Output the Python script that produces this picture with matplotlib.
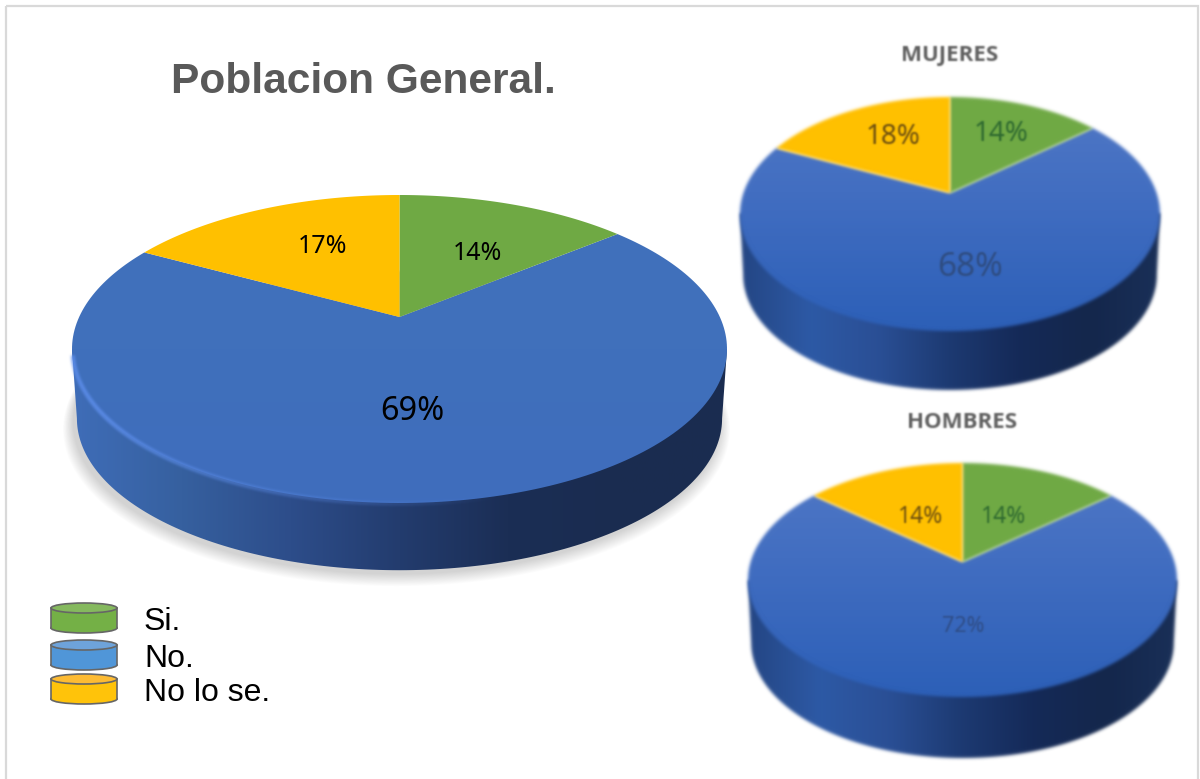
import numpy as np
import matplotlib
matplotlib.use('Agg')
import matplotlib.pyplot as plt
from matplotlib.patches import Polygon, Ellipse, Rectangle
from matplotlib.collections import LineCollection
from matplotlib.colors import LinearSegmentedColormap

# values, percent (si, no, no lo se)
general = [14, 69, 17]
mujeres = [14, 68, 18]
hombres = [14, 72, 14]
legend_labels = ['Si.', 'No.', 'No lo se.']

GREEN = '#6fa944'
YELLOW = '#ffc000'
TEXT_FONT = 'Noto Sans'

wall_big = LinearSegmentedColormap.from_list('wall_big', ['#3f6db8', '#36609f', '#2d4d8a', '#233c6e', '#1b2e55', '#1a2c50', '#1b2d50'])
wall_small = LinearSegmentedColormap.from_list('wall_small', ['#244684', '#2e5aa6', '#2a4f95', '#1d3a72', '#152a58', '#14274c', '#1a3058'])

fig = plt.figure(figsize=(12, 7.79), dpi=100, facecolor='white')
ax = fig.add_axes([0, 0, 1, 1])
ax.set_xlim(0, 1200)
ax.set_ylim(779, 0)
ax.axis('off')


def blur(image, dpi, radius=1.6):
    # soft edges for the two scaled down pies on the right
    pad = int(radius * 3)
    img = np.pad(image, ((pad, pad), (pad, pad), (0, 0)))
    img[..., :3] *= img[..., 3:]
    x = np.arange(-pad, pad + 1)
    kernel = np.exp(-x ** 2 / (2 * radius ** 2))
    kernel /= kernel.sum()
    for axis in (0, 1):
        img = np.apply_along_axis(lambda c: np.convolve(c, kernel, mode='same'), axis, img)
    img[..., :3] /= np.maximum(img[..., 3:], 1e-4)
    return np.clip(img, 0, 1), -pad, -pad


def draw_pie(values, cx, half, apex, top, bottom, depth, wall, face, soft=False, shadow=False, rim=False):
    k = (bottom - top) / (bottom + top)
    b = top * (1 + k)
    s = half * np.sqrt(1 - k ** 2)
    flt = blur if soft else None

    def project(angle, dy=0.0, scale=1.0):
        # angle clockwise from the top, seen in perspective
        u, v = np.sin(angle), np.cos(angle)
        w = 1 + k * v
        return cx + scale * s * u / w, apex - scale * b * v / w + dy

    t = np.linspace(0, 2 * np.pi, 361)
    xt, yt = project(t)
    xb, yb = project(t, depth, 0.985)
    left, right = np.argmin(xt), np.argmax(xt)
    left_b, right_b = np.argmin(xb), np.argmax(xb)
    # lower rim runs from the right extreme to the left extreme
    arc = np.arange(right_b, left_b + 1)
    body = np.vstack([[xt[right], yt[right]], np.column_stack([xb[arc], yb[arc]]), [xt[left], yt[left]]])

    if shadow:
        for grow in np.arange(1, 16):
            sx, sy = project(t, depth + 3 + grow * 0.45, 0.985 + grow * 0.0022)
            ax.add_patch(Polygon(np.column_stack([sx - 3, sy]), closed=True, fc='#808080', ec='none', alpha=0.022, zorder=1))

    clip = Polygon(body, closed=True, transform=ax.transData)
    im = ax.imshow(np.linspace(0, 1, 256).reshape(1, -1), cmap=wall, extent=[cx - half, cx + half, apex + bottom + depth + 5, apex - top],
                   aspect='auto', zorder=2, agg_filter=flt)
    im.set_clip_path(clip)

    ends = np.cumsum([0] + list(values)) / 100 * 2 * np.pi
    colors = [GREEN, None, YELLOW]
    for i in range(3):
        arc_t = np.linspace(ends[i], ends[i + 1], 200)
        xa, ya = project(arc_t)
        pts = np.column_stack([np.r_[cx, xa], np.r_[apex, ya]])
        if colors[i] is None:
            clip_f = Polygon(pts, closed=True, transform=ax.transData)
            cmap_f = LinearSegmentedColormap.from_list('face', face)
            imf = ax.imshow(np.linspace(0, 1, 64).reshape(-1, 1), cmap=cmap_f, extent=[cx - half, cx + half, apex + bottom, apex - top],
                            aspect='auto', origin='upper', zorder=3, agg_filter=flt)
            imf.set_clip_path(clip_f)
        else:
            ax.add_patch(Polygon(pts, closed=True, fc=colors[i], ec='none', zorder=4, agg_filter=flt))

    if rim:
        ang = np.linspace(np.deg2rad(256), np.deg2rad(165), 120)
        xr, yr = project(ang, 1, 0.998)
        pts = np.column_stack([xr, yr]).reshape(-1, 1, 2)
        segs = np.concatenate([pts[:-1], pts[1:]], axis=1)
        alpha = np.minimum(1, np.linspace(1.3, 0, len(segs))) * 0.85
        cols = np.tile(matplotlib.colors.to_rgba('#5f90ee'), (len(segs), 1))
        cols[:, 3] = alpha
        ax.add_collection(LineCollection(segs, colors=cols, linewidths=3.0, zorder=5,
                                         agg_filter=lambda i, d: blur(i, d, 1.3)))

    ax.set_xlim(0, 1200)
    ax.set_ylim(779, 0)


big_face = ['#4070bb', '#4070bb', '#3f6dbd']
small_face = ['#5078c6', '#3f6cc0', '#2d60b8']

draw_pie(general, 399.5, 327.5, 317, 122, 186, 70, wall_big, big_face, shadow=True, rim=True)
draw_pie(mujeres, 950, 210, 193, 96, 138, 61, wall_small, small_face, soft=True)
draw_pie(hombres, 962.5, 214.5, 562, 99, 135, 63, wall_small, small_face, soft=True)

# outer frame
ax.add_patch(Rectangle((6, 6), 1192, 790, fc='none', ec='#d9d9d9', lw=1.6, zorder=0, clip_on=False))

ax.text(363.5, 82, 'Poblacion General.', family='Liberation Sans', weight='bold', fontsize=30.6,
        color='#595959', ha='center', va='center', zorder=6)

# main pie labels
ax.text(322.5, 246, f'{general[2]}%', family=TEXT_FONT, fontsize=18, color='black', ha='center', va='center', zorder=6)
ax.text(477, 253, f'{general[0]}%', family=TEXT_FONT, fontsize=18, color='black', ha='center', va='center', zorder=6)
ax.text(412, 411, f'{general[1]}%', family=TEXT_FONT, fontsize=23.4, color='black', ha='center', va='center', zorder=6)

# side pie labels, blurred like the source
ax.text(950, 55, 'MUJERES', family='Open Sans', weight='bold', fontsize=16, color='#5f5f5f', ha='center', va='center', zorder=6, agg_filter=lambda i, d: blur(i, d, 0.9))
ax.text(962.5, 422, 'HOMBRES', family='Open Sans', weight='bold', fontsize=16, color='#5f5f5f', ha='center', va='center', zorder=6, agg_filter=lambda i, d: blur(i, d, 0.9))
side_labels = [
    (893, 137, mujeres[2], '#6d4f10', 20),
    (1001, 134, mujeres[0], '#2f6a30', 20),
    (970, 267, mujeres[1], '#2f4d82', 24),
    (921, 517, hombres[2], '#6d4f10', 16.5),
    (1004, 517, hombres[0], '#2f6a30', 16.5),
    (963, 626, hombres[1], '#2f4d86', 15.5),
]
for x, y, val, col, size in side_labels:
    ax.text(x, y, f'{val}%', family=TEXT_FONT, fontsize=size, color=col, ha='center', va='center', zorder=6,
            agg_filter=lambda i, d: blur(i, d, 0.9))

# legend, small discs
legend_body = ['#74b046', '#5096d8', '#ffc30a']
legend_top = ['#85b95e', '#6ea3da', '#fdbb33']
legend_y = [603, 640, 674]
for label, y0, cb, ct in zip(legend_labels, legend_y, legend_body, legend_top):
    ax.add_patch(Ellipse((84, y0 + 25), 66, 10, fc=cb, ec='#666666', lw=1.2, zorder=6))
    ax.add_patch(Rectangle((51, y0 + 5), 66, 20, fc=cb, ec='none', zorder=6))
    ax.plot([51, 51], [y0 + 5, y0 + 25], color='#666666', lw=1.2, zorder=7)
    ax.plot([117, 117], [y0 + 5, y0 + 25], color='#666666', lw=1.2, zorder=7)
    ax.add_patch(Ellipse((84, y0 + 5), 66, 10, fc=ct, ec='#666666', lw=1.2, zorder=7))
    ax.text(144, y0 + 19, label, family='Liberation Sans', fontsize=23, color='black', ha='left', va='center', zorder=7)

fig.savefig('out.png', dpi=100, facecolor='white')
